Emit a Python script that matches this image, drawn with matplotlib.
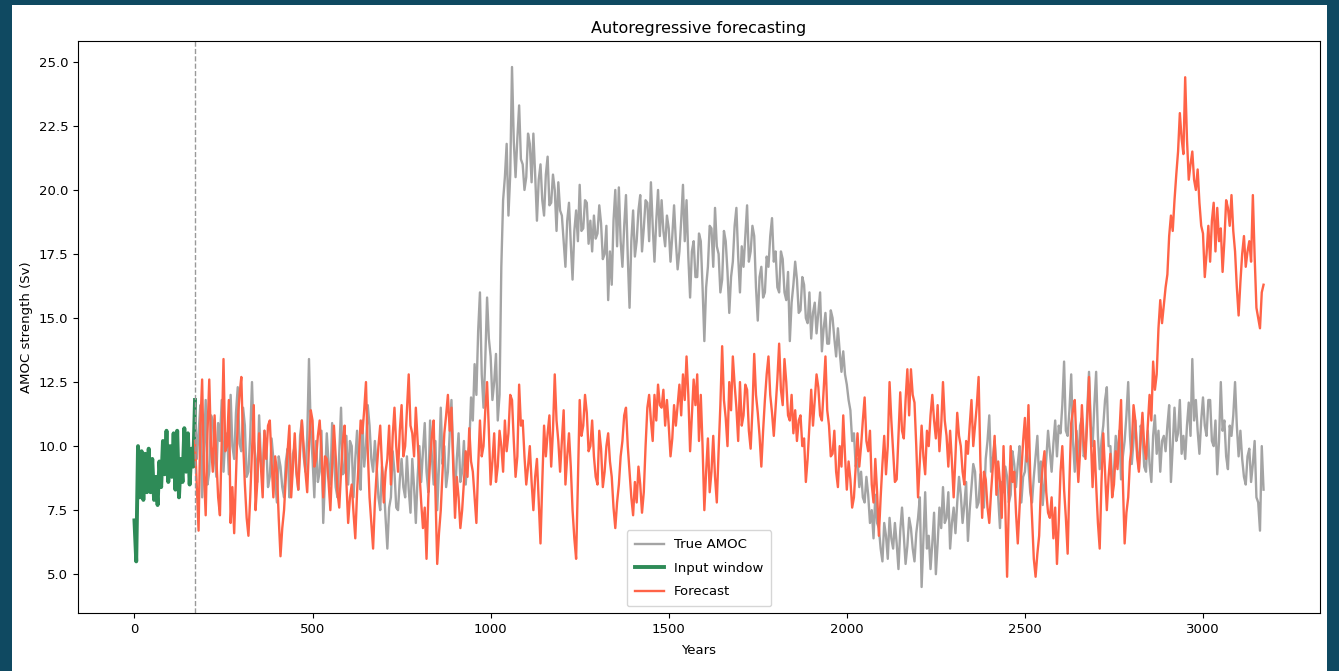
import numpy as np
import matplotlib
matplotlib.use("Agg")
import matplotlib.pyplot as plt
from matplotlib.patches import Rectangle

# Input window (first 171 years), sampled every 5 years
input_years = np.arange(0, 171, 5)
input_values = [
    7.1, 5.5, 10.0, 8.0, 9.8, 7.9, 9.7, 8.2, 9.9, 8.2,
    9.5, 7.9, 8.8, 7.7, 9.4, 8.4, 10.2, 8.9, 10.6, 8.6,
    10.0, 8.8, 10.5, 8.3, 10.6, 8.0, 9.5, 8.6, 10.7, 9.0,
    10.5, 8.5, 9.9, 9.2, 11.8,
]

# True AMOC after the input window, every 5 years (175 .. 3170)
true_tail = [
    9.5, 10.5, 11.6, 8.0, 9.8,
    11.8, 8.5, 9.0, 11.2, 11.0, 9.6, 8.8, 10.9, 10.2, 11.8, 9.0, 10.3, 10.5, 8.9, 12.0, 10.0, 9.5, 11.3, 12.3, 10.1,
    9.8, 11.5, 10.8, 8.8, 9.0, 10.4, 12.5, 10.2, 9.5, 8.6, 11.2, 9.4, 9.0, 10.6, 10.0, 8.4, 8.8, 10.3, 9.5, 8.6,
    7.8, 9.6, 9.2, 8.4, 8.0, 9.4, 9.9, 8.0, 8.5, 9.7, 10.0, 8.9, 8.3, 10.4, 11.0, 9.6, 9.0, 10.3, 13.4, 10.6,
    9.5, 8.0, 10.2, 8.6, 9.0, 10.6, 7.0, 8.8, 10.5, 9.3, 8.5, 10.9, 9.5, 8.4, 8.0, 9.8, 11.5, 8.9, 9.0, 10.4,
    8.5, 10.2, 10.0, 8.0, 9.5, 10.6, 9.0, 8.3, 11.0, 9.2, 10.0, 11.6, 10.8, 9.5, 9.0, 10.2, 9.2, 8.0, 7.5, 9.2,
    8.5, 7.2, 6.0, 7.6, 8.0, 9.8, 9.0, 7.6, 7.5, 8.7, 9.5, 8.4, 8.0, 9.6, 8.3, 7.4, 9.5, 8.4, 7.0, 8.8,
    10.0, 8.6, 9.8, 10.9, 9.0, 8.2, 11.0, 9.6, 8.5, 10.2, 7.5, 9.2, 11.5, 9.3, 10.0, 8.4, 9.0, 10.5, 11.8, 9.6,
    8.0, 9.5, 10.5, 8.6, 9.0, 10.2, 8.5, 9.6, 10.0, 11.9, 11.0, 13.2, 12.0, 14.5, 16.0, 12.8, 11.5, 13.4, 15.8, 14.2,
    13.5, 11.8, 12.5, 13.6, 11.0, 12.0, 17.0, 19.6, 20.5, 21.8, 19.0, 20.6, 24.8, 21.9, 20.5, 22.0, 23.3, 21.2, 21.0, 20.0,
    20.5, 22.2, 21.8, 20.3, 22.2, 20.6, 18.8, 20.4, 21.0, 19.6, 19.0, 20.6, 21.3, 19.4, 19.5, 20.6, 20.0, 18.4, 20.3, 19.2,
    19.0, 18.0, 17.0, 18.8, 19.5, 17.9, 16.5, 18.4, 19.2, 18.0, 20.2, 18.4, 18.5, 19.6, 19.5, 17.9, 18.8, 17.6, 19.0, 18.1,
    18.3, 19.4, 18.7, 17.3, 17.5, 18.6, 15.7, 17.6, 16.3, 18.8, 20.0, 17.8, 20.1, 18.0, 17.0, 18.6, 19.8, 17.4, 15.4, 18.0,
    19.2, 17.4, 18.0, 19.2, 19.8, 17.6, 18.5, 19.6, 19.5, 18.0, 20.3, 18.6, 17.2, 18.8, 20.0, 18.2, 19.6, 18.4, 17.8, 19.0,
    18.5, 17.2, 18.2, 19.4, 18.0, 16.9, 17.6, 18.8, 20.2, 18.0, 19.6, 17.4, 15.8, 17.6, 18.0, 16.6, 16.6, 18.3, 18.0, 16.2,
    14.1, 16.2, 17.0, 18.6, 18.5, 17.0, 19.3, 17.8, 17.5, 16.0, 16.5, 18.4, 18.0, 16.8, 15.2, 16.6, 17.2, 18.6, 19.3, 17.4,
    16.0, 17.8, 17.0, 18.2, 19.4, 17.2, 17.6, 18.6, 18.2, 16.2, 14.9, 16.6, 17.0, 15.8, 16.0, 17.4, 17.0, 18.2, 18.9, 17.2,
    17.6, 16.2, 16.0, 17.6, 17.3, 16.0, 15.7, 16.8, 14.1, 15.6, 16.3, 17.2, 16.5, 15.2, 15.3, 16.6, 16.3, 15.0, 14.8, 16.0,
    14.2, 15.2, 15.6, 14.4, 15.2, 16.0, 13.7, 14.6, 15.2, 14.0, 14.0, 15.3, 15.0, 14.2, 13.5, 14.6, 13.7, 12.9, 13.7, 12.8,
    12.4, 11.8, 11.4, 10.2, 10.5, 9.2, 9.5, 8.4, 9.0, 8.0, 7.8, 8.8, 8.1, 7.0, 7.5, 6.4, 8.1, 7.0, 6.8, 6.0,
    5.5, 7.0, 6.5, 5.6, 7.2, 6.4, 6.0, 7.0, 6.2, 5.2, 6.7, 7.6, 6.5, 5.4, 6.1, 7.2, 6.8, 6.0, 5.5, 6.6,
    7.2, 8.0, 4.5, 6.4, 8.2, 6.0, 6.5, 5.2, 6.2, 7.4, 5.0, 6.2, 7.6, 6.8, 8.4, 7.0, 7.2, 8.2, 6.0, 7.0,
    7.6, 6.6, 7.8, 8.8, 8.1, 7.0, 7.7, 8.6, 6.3, 7.5, 8.4, 9.3, 9.0, 7.6, 7.8, 8.9, 8.4, 7.6, 9.5, 10.2,
    11.2, 9.0, 9.5, 10.2, 9.3, 8.0, 6.8, 8.6, 8.2, 9.2, 8.8, 7.8, 8.1, 9.8, 9.3, 8.4, 9.3, 10.0, 7.8, 8.8,
    9.0, 10.0, 9.2, 8.2, 7.8, 8.8, 9.6, 10.4, 8.6, 9.4, 7.7, 8.6, 9.5, 10.6, 9.8, 9.0, 10.1, 11.0, 9.6, 10.8,
    10.5, 11.6, 13.3, 10.6, 10.4, 11.4, 12.8, 10.2, 9.0, 10.6, 9.2, 10.8, 11.1, 9.6, 9.8, 11.4, 12.9, 10.8, 10.0, 11.6,
    12.9, 10.4, 9.1, 10.2, 10.8, 11.8, 12.3, 10.0, 10.0, 8.6, 9.0, 10.4, 9.4, 10.6, 8.7, 9.6, 10.2, 11.2, 12.5, 10.4,
    9.3, 10.2, 11.0, 9.8, 9.1, 10.8, 10.5, 9.2, 9.0, 10.6, 9.3, 8.6, 10.4, 11.2, 9.7, 10.6, 9.0, 10.2, 10.4, 9.8,
    10.8, 11.6, 8.6, 10.0, 11.5, 10.2, 10.5, 11.8, 9.7, 10.4, 9.5, 10.8, 11.7, 10.4, 13.4, 11.0, 11.8, 10.6, 9.7, 11.0,
    11.9, 10.8, 10.4, 11.8, 11.8, 10.2, 10.0, 11.0, 8.9, 10.2, 12.5, 10.6, 11.0, 9.6, 9.1, 10.8, 10.4, 11.2, 12.5, 10.8,
    9.6, 10.6, 9.5, 8.8, 8.5, 9.6, 9.9, 8.6, 9.3, 10.2, 8.0, 7.8, 6.7, 10.0, 8.3,
]

# The true series over the input window is the input window itself
true_years = np.concatenate([input_years, np.arange(175, 3171, 5)])
true_values = input_values + true_tail

# Autoregressive forecast from the end of the input window, every 5 years (170 .. 3170)
forecast_years = np.arange(170, 3171, 5)
forecast_values = [
    10.2, 8.5, 6.7, 10.8, 12.6, 9.0,
    7.3, 10.5, 12.6, 10.0, 9.0, 11.2, 9.5, 8.0, 7.3, 10.2, 13.4, 9.8, 10.0, 11.8, 7.0, 8.4, 6.6, 8.8, 11.0, 12.0,
    12.7, 10.2, 8.5, 7.2, 6.5, 8.0, 9.8, 11.6, 7.5, 8.6, 10.5, 9.2, 8.0, 10.6, 9.5, 10.8, 11.0, 9.4, 8.0, 9.6,
    9.0, 7.2, 5.7, 6.8, 7.5, 8.8, 9.8, 10.8, 8.0, 9.2, 10.5, 9.0, 8.3, 9.8, 11.0, 10.0, 9.0, 8.2, 10.0, 11.4,
    11.0, 9.2, 9.5, 10.4, 11.0, 9.8, 8.0, 9.6, 9.5, 8.6, 7.5, 9.2, 10.8, 9.6, 8.2, 7.6, 9.0, 10.2, 10.8, 8.6,
    7.0, 8.0, 8.5, 7.4, 6.4, 8.2, 9.5, 11.0, 10.5, 11.4, 12.5, 9.8, 8.0, 7.0, 6.0, 7.8, 9.0, 10.0, 10.8, 9.2,
    7.8, 9.0, 9.5, 10.8, 8.5, 10.4, 11.5, 10.0, 9.0, 10.6, 11.6, 9.6, 10.0, 11.4, 12.8, 10.8, 10.5, 9.6, 11.5, 10.2,
    9.0, 7.8, 6.8, 7.6, 5.6, 8.0, 9.5, 10.4, 11.0, 8.2, 5.4, 6.6, 7.5, 9.0, 10.5, 11.2, 12.0, 10.6, 11.5, 9.2,
    7.2, 8.8, 8.0, 6.8, 7.5, 8.6, 9.8, 8.8, 10.7, 9.4, 9.0, 8.0, 7.0, 9.2, 11.0, 9.6, 10.0, 11.4, 12.5, 10.6,
    8.5, 9.4, 10.5, 8.6, 9.2, 10.6, 10.0, 9.0, 11.0, 9.8, 10.5, 12.0, 11.8, 10.2, 8.8, 9.6, 12.4, 10.8, 11.0, 9.6,
    8.5, 9.2, 10.0, 8.6, 7.5, 8.8, 9.5, 7.8, 6.2, 8.6, 10.8, 9.6, 10.5, 11.2, 9.2, 10.6, 12.8, 11.0, 10.2, 9.0,
    10.2, 11.4, 8.5, 9.6, 10.5, 9.2, 7.5, 6.4, 5.6, 8.6, 11.8, 10.4, 10.8, 12.0, 11.3, 9.8, 10.0, 11.0, 9.6, 8.8,
    8.5, 10.6, 9.9, 8.4, 9.0, 10.0, 10.5, 9.4, 8.8, 7.6, 6.8, 7.8, 8.5, 9.6, 10.2, 11.2, 11.5, 10.0, 9.0, 8.0,
    7.3, 8.6, 7.8, 9.2, 8.5, 7.4, 8.2, 10.0, 11.5, 12.0, 11.0, 10.2, 12.0, 11.0, 12.4, 11.6, 11.5, 12.2, 10.8, 11.8,
    10.8, 9.6, 10.3, 11.6, 10.8, 11.6, 12.4, 11.2, 12.8, 11.8, 13.5, 12.0, 9.8, 11.2, 12.6, 11.6, 12.8, 10.2, 12.0, 10.0,
    7.5, 9.0, 10.3, 8.2, 9.0, 10.4, 8.8, 7.8, 9.8, 11.6, 13.9, 11.8, 11.1, 10.0, 12.5, 11.4, 13.5, 12.4, 11.5, 10.2,
    12.5, 10.8, 11.2, 12.4, 12.2, 10.6, 9.9, 11.4, 13.6, 12.0, 11.3, 10.4, 9.2, 10.6, 11.8, 12.8, 13.5, 12.0, 11.3, 10.4,
    11.5, 12.6, 14.0, 12.2, 11.6, 13.4, 12.5, 11.2, 11.0, 12.0, 10.5, 11.4, 10.2, 11.0, 11.2, 10.0, 10.3, 8.6, 9.5, 10.8,
    12.2, 10.8, 11.8, 12.8, 12.3, 11.2, 11.0, 12.2, 13.5, 11.4, 10.8, 9.6, 9.7, 10.6, 9.0, 8.4, 10.0, 9.2, 11.2, 9.6,
    8.3, 9.4, 8.7, 7.6, 8.0, 9.2, 10.5, 9.2, 10.0, 11.0, 11.9, 10.2, 9.8, 10.6, 8.5, 7.8, 9.5, 8.2, 6.5, 8.0,
    9.3, 10.4, 8.9, 10.0, 12.5, 11.0, 9.8, 8.6, 8.7, 10.4, 12.1, 10.6, 10.3, 11.8, 13.0, 11.2, 13.0, 12.0, 11.7, 10.0,
    8.0, 9.4, 10.8, 9.6, 8.9, 10.6, 10.0, 11.2, 12.0, 11.0, 10.3, 11.6, 9.8, 10.8, 12.5, 11.0, 10.4, 9.2, 10.6, 9.4,
    8.0, 9.6, 11.3, 10.4, 10.0, 9.0, 8.5, 10.2, 9.7, 10.8, 11.8, 10.0, 10.8, 11.6, 12.7, 9.4, 7.2, 9.0, 8.7, 7.6,
    7.0, 8.2, 9.2, 10.4, 8.1, 9.4, 8.6, 7.2, 10.0, 7.6, 4.9, 7.8, 10.0, 8.6, 9.0, 7.4, 6.2, 7.6, 9.0, 10.2,
    11.1, 9.4, 11.6, 8.8, 7.2, 5.6, 4.9, 5.8, 6.5, 8.4, 9.2, 9.8, 8.2, 7.4, 7.2, 8.0, 6.4, 7.6, 5.4, 7.0,
    9.0, 10.0, 8.3, 7.2, 5.8, 8.6, 10.9, 11.4, 11.8, 10.0, 8.6, 9.8, 11.6, 10.2, 9.5, 11.0, 12.7, 10.4, 8.4, 10.2,
    8.5, 7.0, 6.0, 8.6, 10.5, 9.0, 7.5, 8.8, 9.7, 8.0, 8.5, 9.8, 9.1, 10.4, 11.8, 8.6, 6.2, 7.4, 8.0, 9.4,
    10.0, 11.6, 11.0, 9.6, 9.0, 10.2, 11.3, 10.0, 9.5, 10.8, 12.0, 11.0, 13.3, 12.2, 12.8, 14.6, 15.7, 14.8, 15.5, 16.2,
    16.7, 18.2, 19.0, 18.4, 19.6, 20.6, 21.5, 23.0, 22.0, 21.4, 24.4, 22.0, 20.4, 21.0, 21.5, 20.4, 20.0, 20.8, 19.5, 18.6,
    18.3, 16.6, 17.5, 18.6, 17.2, 18.8, 19.5, 17.6, 19.3, 18.0, 18.5, 16.8, 18.0, 19.6, 19.3, 18.6, 19.8, 18.4, 17.6, 16.2,
    15.1, 16.4, 17.5, 18.2, 17.0, 17.6, 18.0, 17.2, 19.8, 17.4, 15.4, 15.0, 14.6, 16.0, 16.3,
]

forecast_start = 171


def plot_forecast():
    """Line chart of the true AMOC, the input window and the forecast"""
    fig = plt.figure(figsize=(13.39, 6.71), dpi=100)
    fig.patch.set_facecolor('#0f4961')
    # white page inside the dark frame, kept behind the axes
    fig.patches.append(Rectangle((12 / 1339, 0), 1315 / 1339, 666 / 671,
                                 transform=fig.transFigure, facecolor='white',
                                 edgecolor='none', zorder=-1))

    ax = fig.add_axes([78 / 1339, 58 / 671, 1242 / 1339, 572 / 671])
    ax.set_zorder(1)
    ax.plot(true_years, true_values, color='#a4a4a4', linewidth=1.7, label='True AMOC')
    ax.plot(input_years, input_values, color='#2e8b57', linewidth=2.8, label='Input window')
    ax.plot(forecast_years, forecast_values, color='#ff6347', linewidth=1.7, label='Forecast')
    ax.axvline(forecast_start, color='#999999', linestyle='--', linewidth=1)

    ax.set_title('Autoregressive forecasting', fontsize=11.5)
    ax.set_xlabel('Years', fontsize=9.5, labelpad=6)
    ax.set_ylabel('AMOC strength (Sv)', fontsize=9.5)
    ax.tick_params(labelsize=9.5)
    ax.legend(loc='lower center', fontsize=9.5, labelspacing=0.8, borderpad=0.6,
              handlelength=2.2)

    fig.savefig('out.png', dpi=100, facecolor=fig.get_facecolor())
    plt.close(fig)


if __name__ == "__main__":
    plot_forecast()
